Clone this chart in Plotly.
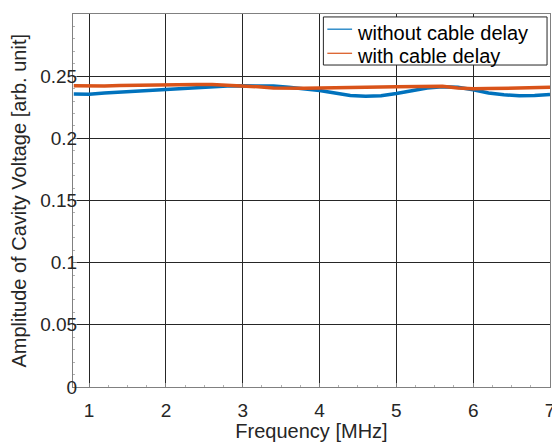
import plotly.graph_objects as go

# Frequency [MHz]
freq = [0.8, 1.0, 1.2, 1.4, 1.6, 1.8, 2.0, 2.2, 2.4, 2.6, 2.8, 3.0, 3.2, 3.4, 3.6, 3.8,
        4.0, 4.2, 4.4, 4.6, 4.8, 5.0, 5.2, 5.4, 5.6, 5.8, 6.0, 6.2, 6.4, 6.6, 6.8, 7.0]

# Amplitude [arb. unit]
without_delay = [0.2357, 0.2355, 0.2365, 0.2372, 0.2378, 0.2385, 0.2395, 0.2402,
                 0.2410, 0.2415, 0.2420, 0.2423, 0.2425, 0.2420, 0.2410, 0.2398,
                 0.2385, 0.2365, 0.2345, 0.2338, 0.2342, 0.2360, 0.2385, 0.2405,
                 0.2415, 0.2410, 0.2390, 0.2365, 0.2350, 0.2342, 0.2345, 0.2352]

with_delay = [0.2422, 0.2418, 0.2420, 0.2425, 0.2428, 0.2430, 0.2432, 0.2433,
              0.2433, 0.2432, 0.2428, 0.2420, 0.2415, 0.2405, 0.2400, 0.2402,
              0.2405, 0.2405, 0.2408, 0.2410, 0.2412, 0.2415, 0.2418, 0.2420,
              0.2418, 0.2405, 0.2398, 0.2400, 0.2402, 0.2405, 0.2408, 0.2410]

series_names = ["without cable delay", "with cable delay"]
series_colors = ["#0072BD", "#D95319"]

x_ticks = [1, 2, 3, 4, 5, 6, 7]
y_ticks = [0, 0.05, 0.1, 0.15, 0.2, 0.25]
y_ticktext = ["0", "0.05", "0.1", "0.15", "0.2", "0.25"]

FONT = "Liberation Sans, Arial, Helvetica, sans-serif"

fig = go.Figure()
for ys, name, color in zip([without_delay, with_delay], series_names, series_colors):
    fig.add_trace(go.Scatter(x=freq, y=ys, mode="lines", name=name,
                             showlegend=False, line=dict(color=color, width=3.5)))

axis_common = dict(
    showgrid=True, gridcolor="#262626", gridwidth=1,
    showline=True, linecolor="#808080", linewidth=1, mirror=True,
    ticks="inside", ticklen=4, tickcolor="#808080",
    zeroline=False, ticklabeloverflow="allow",
    tickfont=dict(family=FONT, size=19, color="#262626"),
)

# MATLAB-style legend box (drawn in paper coordinates, top-right of axes)
leg_box = dict(x0=0.5249, x1=0.9938, y0=0.8632, y1=0.9921)
leg_line_x = (0.5332, 0.5851)
leg_rows_line_y = [0.9593, 0.8947]
leg_rows_text_y = [0.950, 0.8868]
leg_text_x = 0.5913

shapes = [dict(type="rect", xref="paper", yref="paper", layer="above",
               fillcolor="white", line=dict(color="#262626", width=1), **leg_box)]
annotations = []
for name, color, ly, ty in zip(series_names, series_colors, leg_rows_line_y, leg_rows_text_y):
    shapes.append(dict(type="line", xref="paper", yref="paper", layer="above",
                       x0=leg_line_x[0], x1=leg_line_x[1], y0=ly, y1=ly,
                       line=dict(color=color, width=1.2)))
    annotations.append(dict(text=name, xref="paper", yref="paper", x=leg_text_x, y=ty,
                            xanchor="left", yanchor="middle", showarrow=False,
                            font=dict(family=FONT, size=20, color="#000000")))

# y-axis title placed like MATLAB (close to the left edge)
annotations.append(dict(text="Amplitude of Cavity Voltage [arb. unit]", xref="paper", yref="paper",
                        x=0, y=0.5, xanchor="center", yanchor="middle", xshift=-55,
                        textangle=-90, showarrow=False,
                        font=dict(family=FONT, size=20, color="#262626")))

fig.update_layout(
    width=552, height=434,
    margin=dict(l=65, r=5, t=6, b=48),
    paper_bgcolor="white", plot_bgcolor="white",
    font=dict(family=FONT, size=19.5, color="#262626"),
    showlegend=False,
    shapes=shapes,
    annotations=annotations,
    xaxis=dict(
        range=[0.79, 7], tickvals=x_ticks,
        title=dict(text="Frequency [MHz]", standoff=2,
                   font=dict(family=FONT, size=20, color="#262626")),
        minor=dict(ticks="inside", ticklen=2, tickcolor="#b0b0b0", dtick=0.25, showgrid=False),
        ticklabelstandoff=6,
        **axis_common,
    ),
    yaxis=dict(
        range=[0, 0.3], tickvals=y_ticks, ticktext=y_ticktext,
        minor=dict(ticks="inside", ticklen=2, tickcolor="#b0b0b0", dtick=0.01, showgrid=False),
        ticklabelstandoff=-9,
        **axis_common,
    ),
)

fig.write_html("out.html")
